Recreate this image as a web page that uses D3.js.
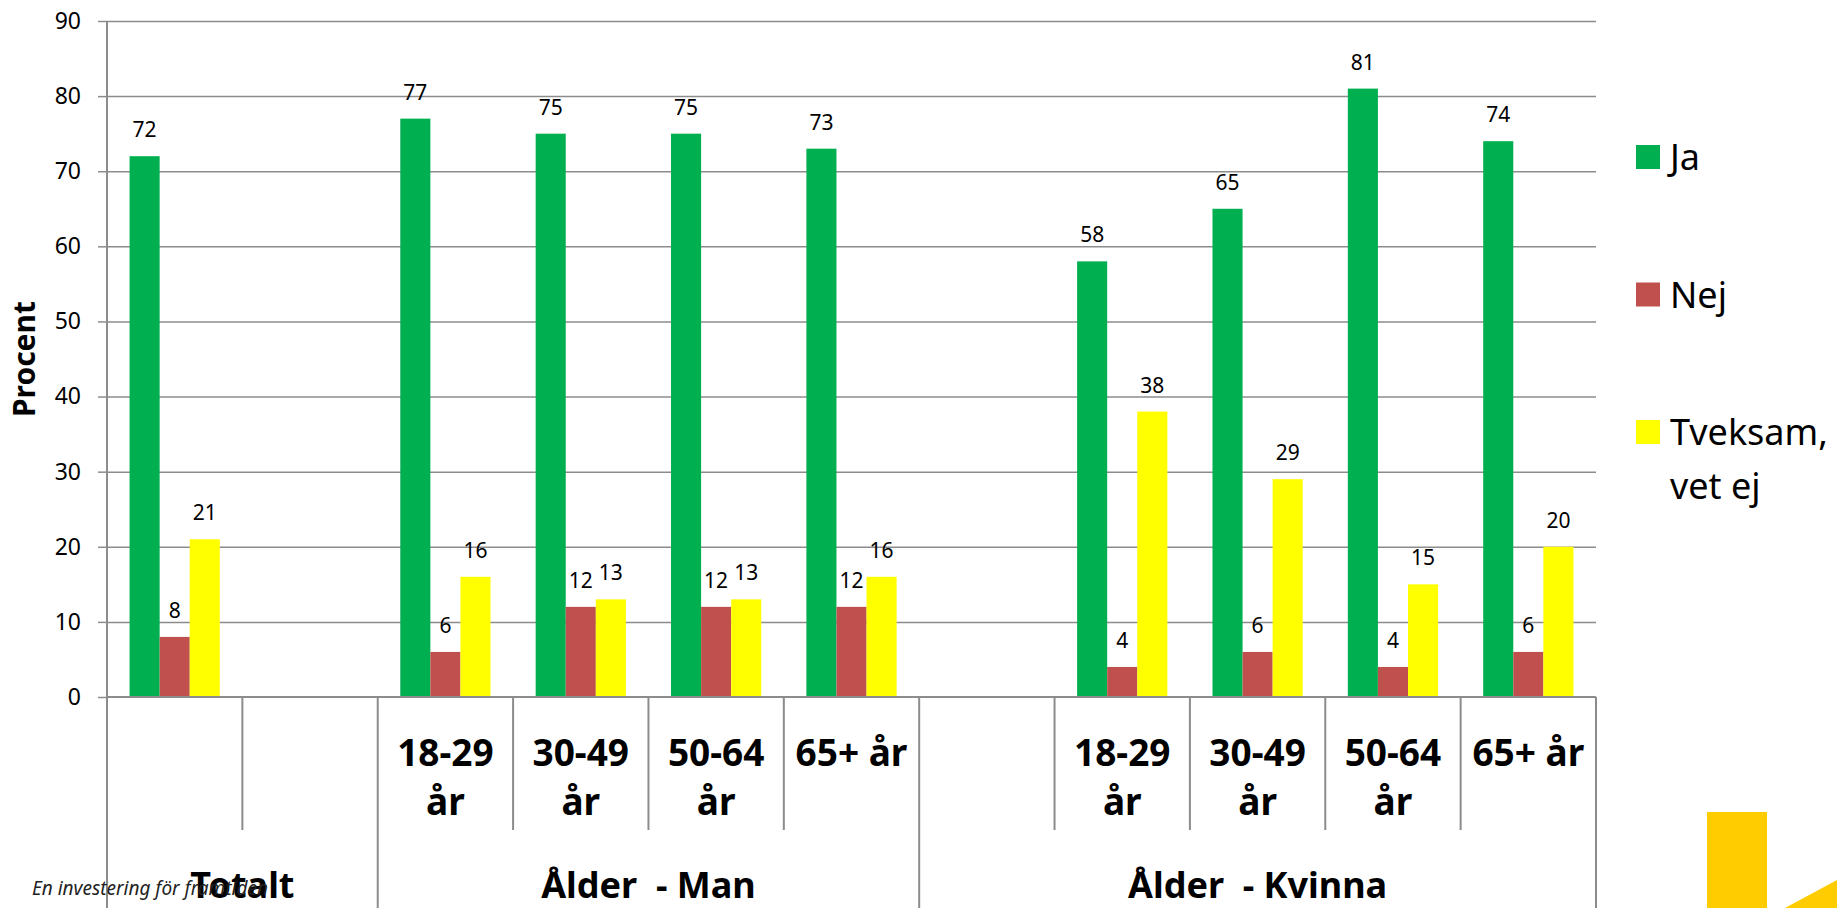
<!DOCTYPE html>
<html>
<head>
<meta charset="utf-8">
<script src="https://cdn.jsdelivr.net/npm/d3@7"></script>
<style>
  body { margin: 0; background: #fff; }
  text { font-family: "Noto Sans", sans-serif; }
</style>
</head>
<body>
<div id="chart"></div>
<script>
// data
var categories = ["Totalt", "", "18-29 år", "30-49 år", "50-64 år", "65+ år", "", "18-29 år", "30-49 år", "50-64 år", "65+ år"];
var tickLabels = ["", "", "18-29 år", "30-49 år", "50-64 år", "65+ år", "", "18-29 år", "30-49 år", "50-64 år", "65+ år"];
var groupNames = ["Totalt", "Ålder  - Man", "Ålder  - Kvinna"];
var groupStart = [0, 2, 6];
var groupSize = [2, 4, 5];
var seriesNames = ["Ja", "Nej", "Tveksam, vet ej"];
var ja = [72, null, 77, 75, 75, 73, null, 58, 65, 81, 74];
var nej = [8, null, 6, 12, 12, 12, null, 4, 6, 4, 6];
var tveksam = [21, null, 16, 13, 13, 16, null, 38, 29, 15, 20];
var yTicks = [0, 10, 20, 30, 40, 50, 60, 70, 80, 90];
var colors = ["#00B050", "#C0504D", "#FFFF00"];

var svgWidth = 1837;
var svgHeight = 908;

var margin = { top: 21, left: 107, right: 241, bottom: 211 };
var width = svgWidth - margin.left - margin.right;
var height = svgHeight - margin.top - margin.bottom;

var svg = d3.select("#chart")
    .append("svg")
    .attr("width", svgWidth)
    .attr("height", svgHeight);

var chartGroup = svg.append("g")
    .attr("transform", `translate(${margin.left}, ${margin.top})`);

var idx = d3.range(categories.length);

// scales
var x0 = d3.scaleBand()
    .domain(idx)
    .range([0, width])
    .padding(0);

var slot = x0.bandwidth();

var x1 = d3.scaleBand()
    .domain(d3.range(seriesNames.length))
    .range([slot / 6, slot * 5 / 6])
    .padding(0);

var y = d3.scaleLinear()
    .domain([0, 90])
    .range([height, 0]);

var gridColor = "#8c8c8c";

// gridlines
chartGroup.append("g")
    .attr("class", "grid")
    .call(d3.axisLeft(y).tickValues(yTicks.slice(1)).tickSize(-width).tickFormat(""))
    .call(g => g.select(".domain").remove())
    .call(g => g.selectAll("line").attr("stroke", gridColor).attr("stroke-width", 1.5));

// y axis
chartGroup.append("g")
    .call(d3.axisLeft(y).tickValues(yTicks).tickSize(9).tickPadding(17))
    .call(g => g.select(".domain").remove())
    .call(g => g.selectAll("line").attr("stroke", gridColor).attr("stroke-width", 1.5))
    .call(g => g.selectAll("text")
        .attr("font-size", 23)
        .attr("fill", "#000")
        .style("font-family", "'Noto Sans', sans-serif"));

// footer text (sits under the category labels)
svg.append("text")
    .attr("x", 32)
    .attr("y", 895)
    .attr("font-size", 19)
    .attr("font-style", "italic")
    .attr("fill", "#222")
    .text("En investering för framtiden");

// bars
var series = [ja, nej, tveksam];
series.forEach(function (vals, s) {
    var pts = idx.filter(i => vals[i] != null);

    chartGroup.selectAll(null)
        .data(pts)
        .enter()
        .append("rect")
        .attr("x", i => x0(i) + x1(s))
        .attr("y", i => y(vals[i]))
        .attr("width", x1.bandwidth())
        .attr("height", i => height - y(vals[i]))
        .attr("fill", colors[s]);

    chartGroup.selectAll(null)
        .data(pts)
        .enter()
        .append("text")
        .attr("x", i => x0(i) + x1(s) + x1.bandwidth() / 2)
        .attr("y", i => y(vals[i]) - 19)
        .attr("text-anchor", "middle")
        .attr("font-size", 21)
        .attr("fill", "#000")
        .text(i => vals[i]);
});

// x axis line
chartGroup.append("line")
    .attr("x1", 0)
    .attr("x2", width)
    .attr("y1", height)
    .attr("y2", height)
    .attr("stroke", gridColor)
    .attr("stroke-width", 2);

// category dividers: full height at group edges, shorter inside groups
var edges = d3.range(categories.length + 1);
var groupEdges = groupStart.concat([categories.length]);
chartGroup.selectAll(null)
    .data(edges)
    .enter()
    .append("line")
    .attr("x1", i => i * slot)
    .attr("x2", i => i * slot)
    .attr("y1", height)
    .attr("y2", i => groupEdges.indexOf(i) >= 0 ? svgHeight - margin.top : height + 133)
    .attr("stroke", gridColor)
    .attr("stroke-width", 2);

// y axis line
chartGroup.append("line")
    .attr("x1", 0)
    .attr("x2", 0)
    .attr("y1", 0)
    .attr("y2", height)
    .attr("stroke", gridColor)
    .attr("stroke-width", 2);

// wrap labels into the slot width
function wrapLabel(textSel, maxW, lineH) {
    textSel.each(function () {
        var t = d3.select(this);
        var words = t.text().split(" ");
        var xPos = t.attr("x");
        t.text(null);
        var line = [];
        var lineNo = 0;
        var tspan = t.append("tspan").attr("x", xPos).attr("dy", 0);
        words.forEach(function (w) {
            line.push(w);
            tspan.text(line.join(" "));
            if (tspan.node().getComputedTextLength() > maxW && line.length > 1) {
                line.pop();
                tspan.text(line.join(" "));
                line = [w];
                lineNo++;
                tspan = t.append("tspan").attr("x", xPos).attr("dy", lineH).text(w);
            }
        });
    });
}

// level 1 labels
chartGroup.selectAll(null)
    .data(idx.filter(i => tickLabels[i] !== ""))
    .enter()
    .append("text")
    .attr("x", i => x0(i) + slot / 2)
    .attr("y", height + 69)
    .attr("text-anchor", "middle")
    .attr("font-size", 37)
    .attr("font-weight", "bold")
    .attr("fill", "#000")
    .text(i => tickLabels[i])
    .call(wrapLabel, slot - 8, 49);

// level 2 labels
chartGroup.selectAll(null)
    .data(groupNames)
    .enter()
    .append("text")
    .attr("x", (d, g) => (groupStart[g] + groupSize[g] / 2) * slot)
    .attr("y", height + 201)
    .attr("text-anchor", "middle")
    .attr("font-size", 36)
    .attr("font-weight", "bold")
    .attr("fill", "#000")
    .style("white-space", "pre")
    .text(d => d);

// y title
svg.append("text")
    .attr("transform", `translate(35, ${margin.top + height / 2}) rotate(-90)`)
    .attr("text-anchor", "middle")
    .attr("font-size", 30)
    .attr("font-weight", "bold")
    .attr("fill", "#000")
    .text("Procent");

// legend
var legend = svg.selectAll(".legend")
    .data(seriesNames)
    .enter()
    .append("g")
    .attr("class", "legend")
    .attr("transform", (d, i) => `translate(1636, ${145 + i * 137.5})`);

legend.append("rect")
    .attr("width", 24)
    .attr("height", 24)
    .attr("fill", (d, i) => colors[i]);

legend.append("text")
    .attr("x", 34)
    .attr("y", 25)
    .attr("font-size", 36)
    .attr("fill", "#000")
    .text(d => d)
    .call(wrapLabel, 170, 54);

// logo corner
svg.append("rect")
    .attr("x", 1707)
    .attr("y", 812)
    .attr("width", 60)
    .attr("height", 96)
    .attr("fill", "#FFCC00");

svg.append("polygon")
    .attr("points", "1785,908 1837,880 1837,908")
    .attr("fill", "#FFCC00");
</script>
</body>
</html>
